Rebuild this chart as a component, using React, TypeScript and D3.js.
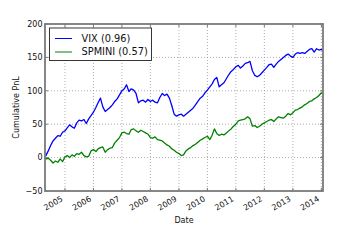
import * as React from 'react';
import * as d3 from 'd3';

// monthly samples, first point is the start of the run, last point the final day
const START = new Date(Date.UTC(2004, 3, 20));
const FIRST_MONTH = new Date(Date.UTC(2004, 4, 1));
const END = new Date(Date.UTC(2014, 0, 22));
const LAST_DAY = new Date(Date.UTC(2014, 0, 20));

const vix = [
  0,
  3, 10, 18, 25, 29, 33, 32, 38,
  40, 45, 49, 46, 44, 52, 56, 55, 57, 51, 58, 63,
  68, 75, 82, 89, 76, 69, 72, 75, 79, 84, 88, 94,
  100, 103, 109, 99, 103, 101, 96, 82, 85, 86, 83, 87,
  84, 86, 83, 82, 90, 96, 93, 95, 89, 78, 65, 62,
  64, 65, 62, 65, 68, 71, 74, 79, 84, 89, 92, 97,
  101, 106, 110, 117, 120, 106, 109, 112, 118, 124, 129, 132,
  136, 138, 134, 137, 141, 142, 144, 130, 123, 121, 123, 127,
  131, 135, 139, 140, 135, 140, 144, 147, 150, 153, 155, 152,
  150, 155, 157, 156, 157, 156, 159, 162, 163, 158, 163, 161,
  162, 160,
];

const spmini = [
  0,
  -2, -1, -4, -8, -5, -7, -2, -6,
  1, 3, 0, 4, 2, 6, 5, 8, 3, 1, 2, 10,
  12, 9, 13, 15, 16, 8, 12, 14, 15, 22, 26, 30,
  37, 38, 36, 35, 42, 43, 40, 38, 41, 39, 37, 35,
  30, 29, 31, 27, 26, 25, 22, 19, 17, 13, 11, 8,
  6, 3, 4, 10, 13, 15, 18, 20, 23, 26, 28, 30,
  32, 27, 33, 43, 36, 33, 35, 34, 37, 40, 43, 47,
  50, 55, 56, 57, 58, 61, 58, 47, 48, 45, 47, 50,
  52, 54, 56, 57, 54, 58, 61, 60, 59, 62, 66, 64,
  67, 71, 72, 74, 76, 79, 81, 84, 85, 88, 90, 93,
  97, 96,
];

const seriesNames = ['VIX (0.96)', 'SPMINI (0.57)'];
const seriesColors = ['#0000ff', '#008000'];
const yTicks = [-50, 0, 50, 100, 150, 200];
const xTickYears = [2005, 2006, 2007, 2008, 2009, 2010, 2011, 2012, 2013, 2014];

const W = 360;
const H = 240;
const M = { left: 45, right: 323, top: 24, bottom: 191 };
const FONT = 'DejaVu Sans, sans-serif';

function dateAt(i: number, n: number) {
  if (i === 0) return START;
  if (i === n - 1) return LAST_DAY;
  return d3.utcMonth.offset(FIRST_MONTH, i - 1);
}

export default function App() {
  const x = d3.scaleUtc().domain([START, END]).range([M.left, M.right]);
  const y = d3.scaleLinear().domain([-50, 200]).range([M.bottom, M.top]);

  const line = d3
    .line<number>()
    .x((_, i) => x(dateAt(i, vix.length)))
    .y((d) => y(d));

  const series = [vix, spmini];
  const frame = '#7a7a7a';

  return (
    <svg width={W} height={H} style={{ position: 'absolute', left: 0, top: 0 }} fontFamily={FONT}>
      <rect x={0} y={0} width={W} height={H} fill="#fff" />
      {/* grid */}
      {yTicks.slice(1, -1).map((t) => (
        <line key={'gy' + t} x1={M.left} x2={M.right} y1={y(t)} y2={y(t)}
          stroke="#8a8a8a" strokeWidth={0.7} strokeDasharray="1,2" />
      ))}
      {xTickYears.map((yr) => {
        const px = x(new Date(Date.UTC(yr, 0, 1)));
        return (
          <line key={'gx' + yr} x1={px} x2={px} y1={M.top} y2={M.bottom}
            stroke="#8a8a8a" strokeWidth={0.7} strokeDasharray="1,2" />
        );
      })}
      {/* series */}
      {series.map((s, i) => (
        <path key={i} d={line(s) || ''} fill="none" stroke={seriesColors[i]}
          strokeWidth={1.3} strokeLinejoin="round" />
      ))}
      {/* ticks, inward on all sides */}
      {yTicks.map((t) => (
        <g key={'ty' + t}>
          <line x1={M.left} x2={M.left + 3} y1={y(t)} y2={y(t)} stroke={frame} strokeWidth={1} />
          <line x1={M.right - 3} x2={M.right} y1={y(t)} y2={y(t)} stroke={frame} strokeWidth={1} />
          <text x={M.left - 2.5} y={y(t)} dy="0.35em" textAnchor="end" fontSize={8} fill="#111">
            {t < 0 ? '\u2212' + Math.abs(t) : t}
          </text>
        </g>
      ))}
      {xTickYears.map((yr) => {
        const px = x(new Date(Date.UTC(yr, 0, 1)));
        return (
          <g key={'tx' + yr}>
            <line x1={px} x2={px} y1={M.bottom - 3} y2={M.bottom} stroke={frame} strokeWidth={1} />
            <line x1={px} x2={px} y1={M.top} y2={M.top + 3} stroke={frame} strokeWidth={1} />
            <text transform={`translate(${px - 1.5},${M.bottom + 9.5}) rotate(-30)`}
              textAnchor="end" fontSize={8} fill="#111">
              {yr}
            </text>
          </g>
        );
      })}
      {/* frame */}
      <rect x={M.left} y={M.top} width={M.right - M.left} height={M.bottom - M.top}
        fill="none" stroke={frame} strokeWidth={1.8} />
      {/* axis labels */}
      <text x={(M.left + M.right) / 2} y={222.5} textAnchor="middle" fontSize={8} fill="#111">Date</text>
      <text transform={`translate(18.5,${(M.top + M.bottom) / 2}) rotate(-90)`} textAnchor="middle"
        fontSize={8} fill="#111">Cumulative PnL</text>
      {/* legend */}
      <rect x={49.5} y={28} width={102} height={32.5} fill="#fff" stroke="#222" strokeWidth={0.9} />
      {seriesNames.map((name, i) => (
        <g key={name}>
          <line x1={55} x2={72} y1={38.5 + i * 13.5} y2={38.5 + i * 13.5}
            stroke={seriesColors[i]} strokeWidth={1} />
          <text x={81.5} y={38.5 + i * 13.5} dy="0.35em" fontSize={9.8} fill="#111">{name}</text>
        </g>
      ))}
    </svg>
  );
}
